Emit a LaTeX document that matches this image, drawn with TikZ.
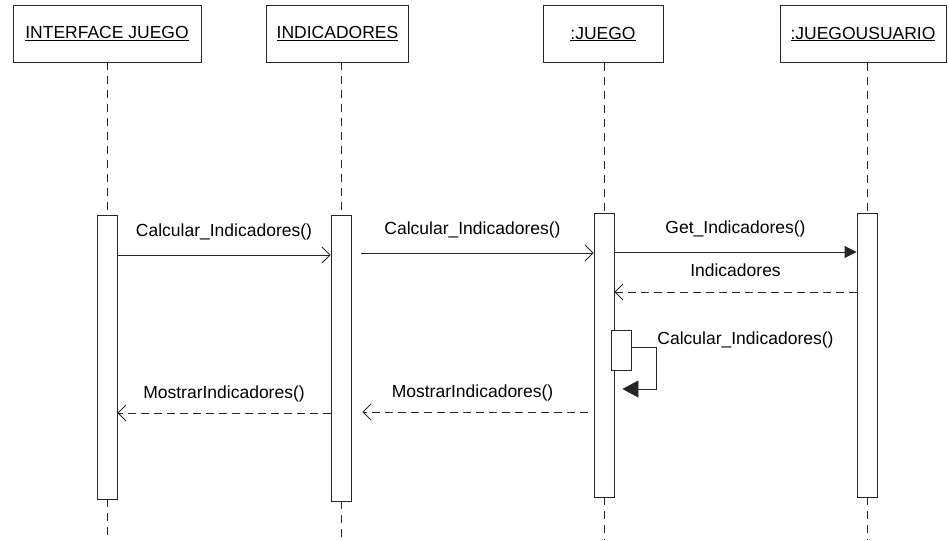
\documentclass[tikz,border=0pt]{standalone}
\usepackage{fontspec}
\setmainfont{Liberation Sans}
\usetikzlibrary{positioning,arrows.meta,calc}
\tikzset{
  objbox/.style={draw,rectangle,minimum height=57pt,inner sep=0pt},
  actbar/.style={draw,fill=white,rectangle,minimum width=20pt,inner sep=0pt},
  lifeline/.style={dash pattern=on 8pt off 6pt},
  call/.style={-{Straight Barb[length=8pt,width=16pt]}},
  fcall/.style={-{Triangle[length=12pt,width=12pt]}},
  reply/.style={dash pattern=on 8pt off 5pt,-{Straight Barb[length=8pt,width=16pt]}},
  msg/.style={midway,above=12pt,inner sep=2pt},
}

\begin{document}
\begin{tikzpicture}[x=1pt,y=-1pt,line width=0.9pt,draw=black!85,
  font=\fontsize{17.5}{20}\selectfont]

\useasboundingbox (0,0) rectangle (949,540);

% objects
\node[objbox,minimum width=188pt] (ifz) at (107,33.5) {\underline{INTERFACE JUEGO}};
\node[objbox,minimum width=142pt] (ind) at (337.5,33.5) {\underline{INDICADORES}};
\node[objbox,minimum width=120pt] (jgo) at (603,34) {\underline{:JUEGO}};
\node[objbox,minimum width=166pt] (jus) at (863,34) {\underline{:JUEGOUSUARIO}};

% activations
\node[actbar,minimum height=284pt] (b1) at (107,357) {};
\node[actbar,minimum height=286pt] (b2) at (341,358) {};
\node[actbar,minimum height=284pt] (b3) at (604,355) {};
\node[actbar,minimum height=284pt] (b4) at (867,355) {};

% lifelines
\foreach \o/\b in {ifz/b1,ind/b2,jgo/b3,jus/b4}{
  \draw[lifeline] (\b.north |- \o.south) -- (\b.north);
  \draw[lifeline] (\b.south) -- (\b.south |- 0,540);
}

\node[actbar,minimum height=40pt] (sb) at (621,350) {};

% messages
\draw[call] (b1.east |- 0,255) -- (b2.west |- 0,255)
  node[msg] {Calcular\_Indicadores()};
\draw[call,shorten <=10pt] (b2.east |- 0,253) -- (b3.west |- 0,253)
  node[msg] {Calcular\_Indicadores()};
\draw[fcall] (b3.east |- 0,252) -- (b4.west |- 0,252)
  node[msg] {Get\_Indicadores()};
\draw[reply] (b4.west |- 0,292) -- (b3.east |- 0,292)
  node[msg,above=13pt] {Indicadores};

% self call
\draw[-{Triangle[length=16pt,width=17pt]},shorten >=8pt]
  (sb.east |- 0,347) -| (656,389) -- (b3.east |- 0,389);
\node[anchor=west,inner sep=1pt] (selflbl) at (656,340) {Calcular\_Indicadores()};

\draw[reply,shorten <=6pt,shorten >=11pt] (b3.west |- 0,412) -- (b2.east |- 0,412)
  node[msg,above=8pt] {MostrarIndicadores()};
\draw[reply] (b2.west |- 0,413) -- (b1.east |- 0,413)
  node[msg,above=8pt] {MostrarIndicadores()};

\end{tikzpicture}
\end{document}
